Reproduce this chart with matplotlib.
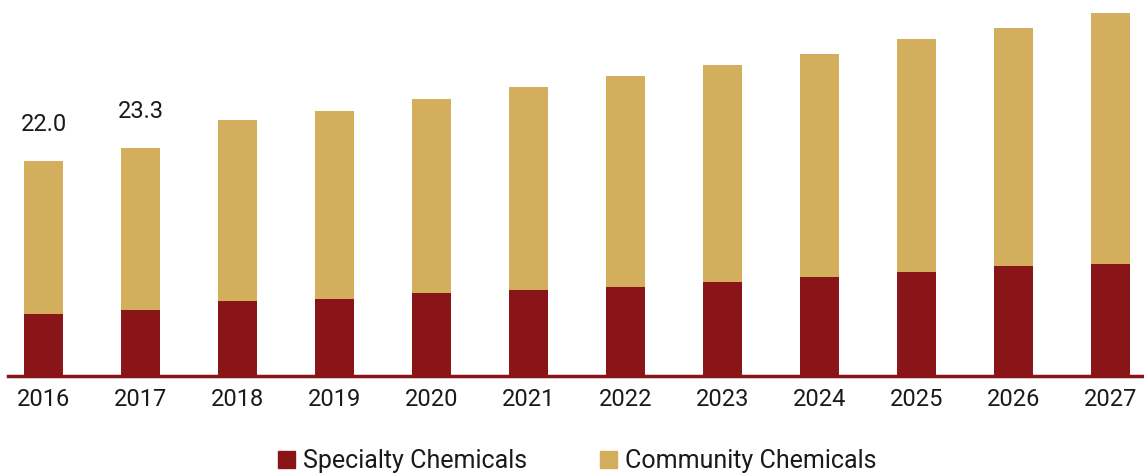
import matplotlib
matplotlib.use("Agg")
import matplotlib.pyplot as plt
from matplotlib.patches import Patch

years = ["2016", "2017", "2018", "2019", "2020", "2021", "2022", "2023", "2024", "2025", "2026", "2027"]
specialty = [6.35, 6.75, 7.7, 7.9, 8.5, 8.8, 9.1, 9.6, 10.1, 10.6, 11.3, 11.5]
community = [15.65, 16.55, 18.5, 19.2, 19.85, 20.8, 21.6, 22.2, 22.9, 23.9, 24.3, 25.7]
labels = {0: "22.0", 1: "23.3"}

RED = "#8A1518"
GOLD = "#D3AE5C"

plt.rcParams['font.family'] = ['Roboto', 'DejaVu Sans']

fig = plt.figure(figsize=(11.44, 4.74), dpi=100)
ax = fig.add_axes([8/1144, 98/474, 1136/1144, 376/474])

x = list(range(len(years)))
ax.bar(x, specialty, width=0.40, color=RED, label="Specialty Chemicals", zorder=2)
ax.bar(x, community, width=0.40, bottom=specialty, color=GOLD, label="Community Chemicals", zorder=2)

for i, t in labels.items():
    total = specialty[i] + community[i]
    ax.text(i, total + 2.6, t, ha="center", va="bottom", fontsize=17, color="#1a1a1a")

ax.set_xlim(-35.5/97, -35.5/97 + 1136/97)
ax.set_ylim(0, 376/9.77)
for s in ["top", "right", "left"]:
    ax.spines[s].set_visible(False)
ax.spines["bottom"].set_color(RED)
ax.spines["bottom"].set_linewidth(2.5)
ax.spines["bottom"].set_zorder(3)
ax.set_yticks([])
ax.set_xticks(x)
ax.set_xticklabels(years, fontsize=17, color="#1a1a1a")
ax.tick_params(axis="x", length=0, pad=9)

handles = [Patch(color=RED, label="Specialty Chemicals"), Patch(color=GOLD, label="Community Chemicals")]
fig.legend(handles=handles, loc="center", bbox_to_anchor=(577/1144, 1 - 461/474), ncol=2, frameon=False,
           fontsize=18, handlelength=0.7, handleheight=0.7, handletextpad=0.3, columnspacing=2.9,
           labelcolor="#1a1a1a")

fig.savefig("out.png", dpi=100)
